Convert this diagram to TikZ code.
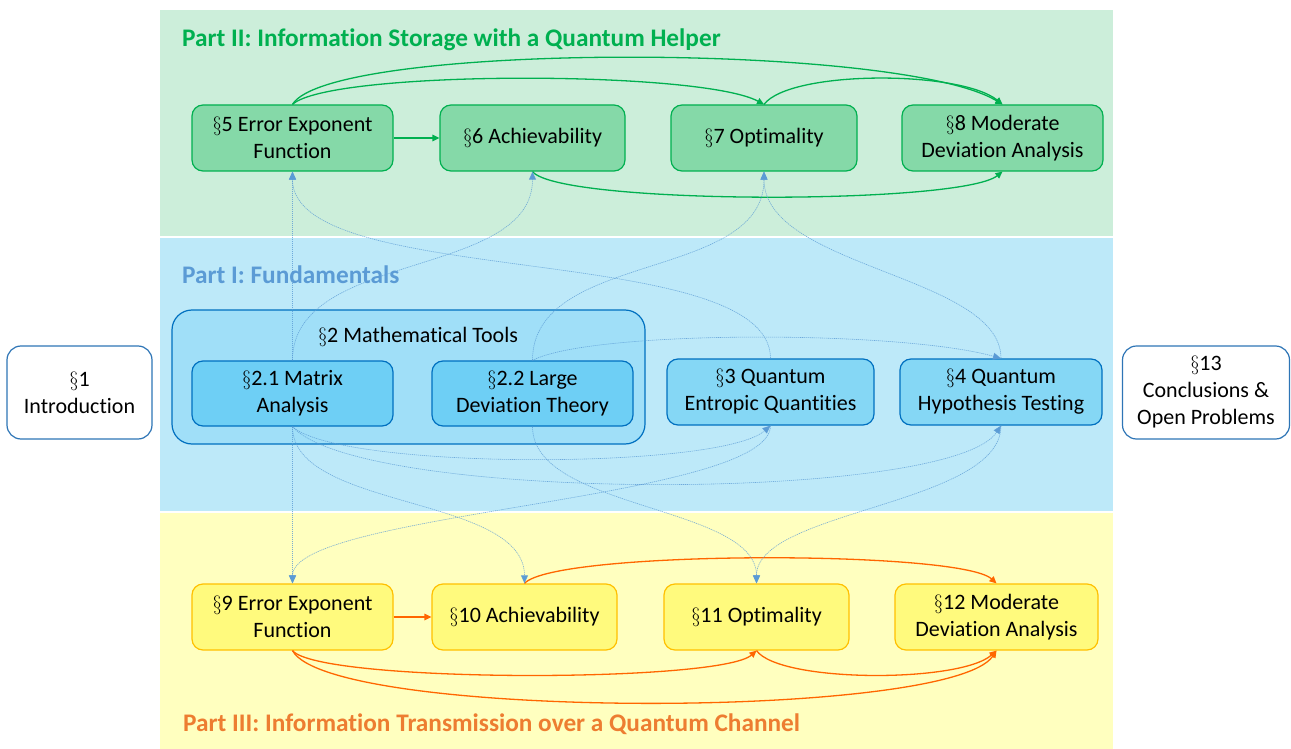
\documentclass[tikz,border=0pt]{standalone}
\usepackage{fontspec}
\setmainfont{Carlito}[Ligatures=NoCommon]
\usetikzlibrary{arrows.meta}

% band and node colours
\definecolor{bandgreen}{RGB}{204,238,218}
\definecolor{bandblue}{RGB}{189,233,249}
\definecolor{bandyellow}{RGB}{255,255,191}
\definecolor{partgreen}{RGB}{0,176,80}
\definecolor{partblue}{RGB}{91,155,213}
\definecolor{partorange}{RGB}{237,125,49}
\definecolor{linkorange}{RGB}{255,102,0}
\definecolor{nodegreen}{RGB}{133,217,168}
\definecolor{nodeblue}{RGB}{110,207,245}
\definecolor{nodebluelight}{RGB}{133,215,245}
\definecolor{toolsblue}{RGB}{160,223,248}
\definecolor{blueline}{RGB}{0,112,192}
\definecolor{nodeyellow}{RGB}{255,250,125}
\definecolor{yellowline}{RGB}{255,192,0}
\definecolor{outerline}{RGB}{46,117,182}

\newcommand{\sect}{\ensuremath{\S}}

\tikzset{
  secbox/.style={rectangle, rounded corners=11pt, line width=1.2pt, inner sep=0pt,
    align=center, text=black, font=\fontsize{22}{27}\selectfont},
  gbox/.style={secbox, draw=partgreen, fill=nodegreen, minimum height=66pt},
  bbox/.style={secbox, draw=blueline, fill=nodeblue, minimum height=65pt},
  lbbox/.style={secbox, draw=blueline, fill=nodebluelight, minimum height=66pt},
  ybox/.style={secbox, draw=yellowline, fill=nodeyellow, minimum height=66pt},
  wbox/.style={secbox, draw=outerline, fill=white, minimum height=93pt, rounded corners=14pt},
  parttitle/.style={anchor=base west, inner sep=0pt, font=\fontsize{25.3}{30}\selectfont\bfseries},
  garrow/.style={draw=partgreen, line width=1.3pt, -{Triangle[length=7pt,width=6.5pt]}},
  oarrow/.style={draw=linkorange, line width=1.3pt, -{Triangle[length=7pt,width=6.5pt]}},
  barrow/.style={draw=partblue, draw opacity=0.8, line width=0.6pt,
    dash pattern=on 1.2pt off 0.8pt, -{Triangle[length=8pt,width=7pt,fill=partblue]}},
}

\begin{document}
\begin{tikzpicture}[x=1pt,y=-1pt]
\useasboundingbox (0,0) rectangle (1291,749);

% background bands of the three parts
\fill[bandgreen] (160,10) rectangle (1113,236);
\fill[bandblue] (160,238) rectangle (1113,511);
\fill[bandyellow] (160,513) rectangle (1113,749);

% part titles
\node[parttitle, text=partgreen] (t2) at (182,47) {Part II: Information Storage with a Quantum Helper};
\node[parttitle, text=partblue] (t1) at (182,283) {Part I: Fundamentals};
\node[parttitle, text=partorange] (t3) at (183,731) {Part III: Information Transmission over a Quantum Channel};

% section 2 container
\node[secbox, draw=blueline, fill=toolsblue, rounded corners=20pt,
      minimum width=473pt, minimum height=134pt] (tools) at (408.5,377) {};
\node[inner sep=0pt, font=\fontsize{22}{27}\selectfont] (toolstitle) at (418,337) {\sect2 Mathematical Tools};

% Part II
\node[gbox, minimum width=201pt] (n5) at (292.5,138) {\sect5 Error Exponent\\Function};
\node[gbox, minimum width=185pt] (n6) at (532.5,138) {\sect6 Achievability};
\node[gbox, minimum width=186pt] (n7) at (764,138) {\sect7 Optimality};
\node[gbox, minimum width=201pt] (n8) at (1002.5,138) {\sect8 Moderate\\Deviation Analysis};

% Part I
\node[bbox, minimum width=201pt] (n21) at (292.5,393.5) {\sect2.1 Matrix\\Analysis};
\node[bbox, minimum width=201pt] (n22) at (532.5,393.5) {\sect2.2 Large\\Deviation Theory};
\node[lbbox, minimum width=207pt] (n3) at (770.5,392) {\sect3 Quantum\\Entropic Quantities};
\node[lbbox, minimum width=202pt] (n4) at (1001,392) {\sect4 Quantum\\Hypothesis Testing};

% introduction and conclusions
\node[wbox, minimum width=145pt] (n1) at (79.5,392.5) {\sect1\\Introduction};
\node[wbox, minimum width=167pt] (n13) at (1206,392.5) {\sect13\\Conclusions \&\\Open Problems};

% Part III
\node[ybox, minimum width=201pt] (n9) at (292.5,617) {\sect9 Error Exponent\\Function};
\node[ybox, minimum width=185pt] (n10) at (524.5,617) {\sect10 Achievability};
\node[ybox, minimum width=185pt] (n11) at (756.5,617) {\sect11 Optimality};
\node[ybox, minimum width=203pt] (n12) at (996.5,617) {\sect12 Moderate\\Deviation Analysis};

% dependencies inside Part II
\draw[garrow] (n5.east) -- (n6.west);
\draw[garrow] (n5.north) .. controls (330,42) and (900,42) .. (n8.north);
\draw[garrow] (n5.north) .. controls (330,70) and (700,70) .. (n7.north);
\draw[garrow] (n7.north) .. controls (790,70) and (960,70) .. (n8.north);
\draw[garrow] (n6.south) .. controls (560,205) and (960,205) .. (n8.south);

% dependencies inside Part III
\draw[oarrow] (n9.east) -- (n10.west);
\draw[oarrow] (n10.north) .. controls (555,550) and (960,550) .. (n12.north);
\draw[oarrow] (n9.south) .. controls (320,683) and (720,683) .. (n11.south);
\draw[oarrow] (n9.south) .. controls (330,720) and (950,720) .. (n12.south);
\draw[oarrow] (n11.south) .. controls (780,683) and (960,683) .. (n12.south);

% fundamentals used upwards
\draw[barrow] (n21.north) -- (n5.south);
\draw[barrow] (n3.north) .. controls (770,240) and (292.5,290) .. (n5.south);
\draw[barrow] (n21.north) .. controls (292.5,250) and (532.5,279) .. (n6.south);
\draw[barrow] (n22.north) .. controls (532.5,250) and (764,282) .. (n7.south);
\draw[barrow] (n4.north) .. controls (1001,275) and (764,268) .. (n7.south);
\draw[barrow] (n22.north) .. controls (590,330) and (900,330) .. (n4.north);

% fundamentals among themselves and downwards
\draw[barrow] (n21.south) -- (n9.north);
\draw[barrow] (n21.south) .. controls (340,470) and (720,470) .. (n3.south);
\draw[barrow] (n21.south) .. controls (360,503) and (950,503) .. (n4.south);
\draw[barrow] (n21.south) .. controls (292.5,510) and (524.5,495) .. (n10.north);
\draw[barrow] (n22.south) .. controls (532.5,510) and (756.5,505) .. (n11.north);
\draw[barrow] (n3.south) .. controls (770.5,500) and (292.5,512) .. (n9.north);
\draw[barrow] (n4.south) .. controls (1001,505) and (756.5,510) .. (n11.north);
\end{tikzpicture}
\end{document}
